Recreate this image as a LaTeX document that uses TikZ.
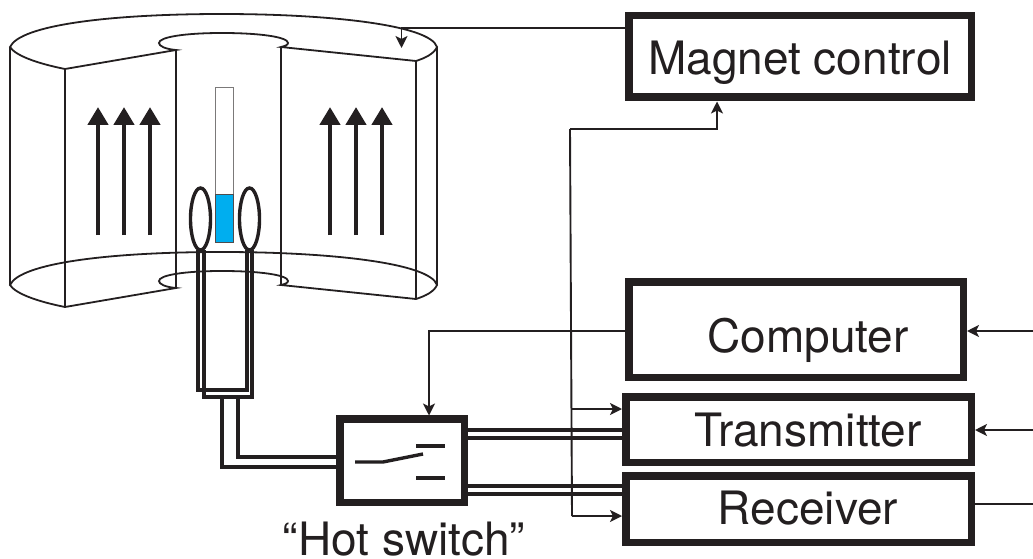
\documentclass[tikz,border=0pt]{standalone}
\usepackage{fontspec}
\setmainfont{TeX Gyre Heros}
\usetikzlibrary{arrows.meta,shapes.geometric}
\definecolor{ink}{HTML}{231F20}
\definecolor{sample}{HTML}{00AEEF}
\newcommand{\magnetring}{%
  \draw[thinline]
    (10,47) .. controls (20,25) and (110,14) .. (222,14)
    .. controls (330,14) and (430,25) .. (437,47)
    .. controls (434,54) and (425,58) .. (416,61)
    -- (281,47)
    .. controls (285,46) and (288,45) .. (288,43)
    .. controls (288,37) and (260,33) .. (222,33)
    .. controls (185,33) and (159,37) .. (159,43)
    .. controls (159,46) and (165,49) .. (176,50)
    -- (65,69)
    .. controls (35,63) and (15,55) .. (10,47) -- cycle;}
\tikzset{
  x=1pt,y=-1pt,
  thinline/.style={draw=ink,line width=1.8pt},
  wire/.style={draw=ink,line width=1.9pt},
  arrowwire/.style={wire,-{Stealth[length=12pt,width=12pt,inset=3pt]}},
  rfline/.style={draw=ink,line width=3.4pt},
  fieldarrow/.style={draw=ink,line width=4.4pt,-{Triangle[length=18pt,width=20pt]}},
  unitbox/.style={draw=ink,line width=7.5pt,inner sep=0pt,fill=white,rectangle},
  coil/.style={ellipse,draw=ink,line width=3.4pt,minimum width=20pt,minimum height=62pt,inner sep=0pt},
  label text/.style={font=\fontsize{46}{46}\selectfont,text=ink,inner sep=0pt,anchor=base},
}
\begin{document}
\begin{tikzpicture}
\useasboundingbox (0,0) rectangle (1033,559);
% magnet
\magnetring
\begin{scope}[yshift=-238pt]
\magnetring
\end{scope}
\foreach \xx/\ya/\yb in {10/47/285, 65/69/307, 176/50/288, 281/47/285, 416/61/299, 437/47/285}
  \draw[thinline] (\xx,\ya) -- (\xx,\yb);
% field arrows
\foreach \xx in {98,124,150,330,356,382}
  \draw[fieldarrow] (\xx,235) -- (\xx,107);
% sample tube
\draw[draw=ink!60,line width=1pt] (215,88) rectangle (233,194);
\draw[draw=ink!80,line width=1pt,fill=sample] (215,194) rectangle (233,242);
% coils and probe wires
\node[coil] (coilL) at (200.5,219) {};
\node[coil] (coilR) at (249.5,219) {};
\coordinate (probeA) at (222,397);
\coordinate (probeB) at (238,397);
\draw[rfline] (198,250) -- (198,390) -- (247,390) -- (247,250);
\draw[rfline] (204,250) -- (204,397) -- (252,397) -- (252,250);
% boxes
\node[unitbox,minimum width=342.5pt,minimum height=81.5pt] (magnet) at (800,56.5) {};
\node[unitbox,minimum width=334.5pt,minimum height=95.5pt] (computer) at (796,329.5) {};
\node[unitbox,minimum width=345.5pt,minimum height=65.5pt] (transmitter) at (798.5,429.5) {};
\node[unitbox,minimum width=345.5pt,minimum height=66.5pt] (receiver) at (798.5,509) {};
\node[unitbox,minimum width=124.5pt,minimum height=83.5pt] (switch) at (402,460.5) {};
% box texts
\node[label text] (tMagnet) at (800,74.5) {Magnet control};
\node[label text] (tComputer) at (808,352) {Computer};
\node[label text] (tTransmitter) at (808,446) {Transmitter};
\node[label text] (tReceiver) at (808,524) {Receiver};
\node[label text] (tSwitch) at (404,555.5) {“Hot switch”};
% switch contacts
\draw[rfline] (355,462) -- (383,462) -- (423,454);
\draw[rfline] (416,446) -- (445,446);
\draw[rfline] (416,478) -- (445,478);
% leads from probe to switch
\draw[rfline] (probeA) -- (222,467) -- (switch.west |- 0,467);
\draw[rfline] (probeB) -- (238,457) -- (switch.west |- 0,457);
% RF lines
\draw[rfline] (switch.east |- 0,430) -- (transmitter.west |- 0,430);
\draw[rfline] (switch.east |- 0,438) -- (transmitter.west |- 0,438);
\draw[rfline] (switch.east |- 0,486) -- (receiver.west |- 0,486);
\draw[rfline] (switch.east |- 0,494) -- (receiver.west |- 0,494);
% control wires
\coordinate (busTop) at (570,129);
\coordinate (busBot) at (572,516);
\coordinate (busMid) at (571.7,409);
\coordinate (magnetIn) at (401.5,48);
\coordinate (edgeC) at (1033,331);
\coordinate (edgeT) at (1033,430);
\coordinate (edgeR) at (1033,504);
\draw[wire] (busTop) -- (busBot);
\draw[arrowwire] (busTop) -- (717,129) -- (717,101.5);
\draw[arrowwire] (busMid) -- (transmitter.west |- busMid);
\draw[arrowwire] (busBot) -- (receiver.west |- busBot);
\draw[arrowwire] (computer.west |- 0,331) -- (429,331) -- (429,415.5);
\draw[arrowwire] (magnet.west |- 0,28) -- (401.5,28) -- (magnetIn);
\draw[arrowwire] (edgeC) -- (computer.east |- edgeC);
\draw[arrowwire] (edgeT) -- (transmitter.east |- edgeT);
\draw[wire] (receiver.east |- edgeR) -- (edgeR);
\end{tikzpicture}
\end{document}
